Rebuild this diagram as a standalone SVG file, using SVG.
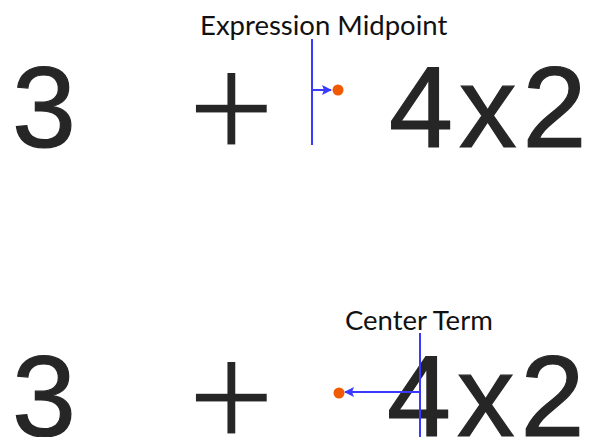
<svg xmlns="http://www.w3.org/2000/svg" width="591" height="437" viewBox="0 0 591 437">
<style>
.big{font-family:"Liberation Sans",Arial,sans-serif;font-size:115px;fill:#262626;stroke:#262626;stroke-width:1.2}
.plus{font-family:"Liberation Sans",Arial,sans-serif;font-size:152px;fill:#262626;stroke:#fff;stroke-width:3}
.lbl{font-family:Lato,"Open Sans",sans-serif;font-size:27.5px;fill:#111}
.ln{stroke:#3a3aff;stroke-width:2;fill:none}
.dot{fill:#f05a00}
</style>
<defs>
<marker id="ah" viewBox="0 0 10 10" refX="9" refY="5" markerWidth="5" markerHeight="5" orient="auto" markerUnits="strokeWidth">
<path d="M0,0 L10,5 L0,10 L2,5 Z" fill="#3a3aff"/>
</marker>
</defs>
<g id="top-row">
<text class="big" x="12" y="147">3</text>
<text class="plus" x="187" y="159">+</text>
<text class="big" x="389" y="147" letter-spacing="6">4x2</text>
</g>
<g id="bottom-row">
<text class="big" x="12" y="436">3</text>
<text class="plus" x="187" y="448">+</text>
<text class="big" x="387" y="436" letter-spacing="6">4x2</text>
</g>
<g id="label-midpoint">
<text class="lbl" x="200" y="35">Expression Midpoint</text>
</g>
<g id="label-center">
<text class="lbl" x="345" y="330">Center Term</text>
</g>
<g id="dot-top"><circle class="dot" cx="338" cy="90" r="5.5"/></g>
<g id="dot-bottom"><circle class="dot" cx="339" cy="393" r="5.5"/></g>
<g id="connectors">
<line class="ln" x1="312" y1="39" x2="312" y2="145"/>
<line class="ln" x1="312" y1="90" x2="331" y2="90" marker-end="url(#ah)"/>
<line class="ln" x1="420" y1="333" x2="420" y2="437"/>
<line class="ln" x1="420" y1="392" x2="345" y2="392" marker-end="url(#ah)"/>
</g>
</svg>
